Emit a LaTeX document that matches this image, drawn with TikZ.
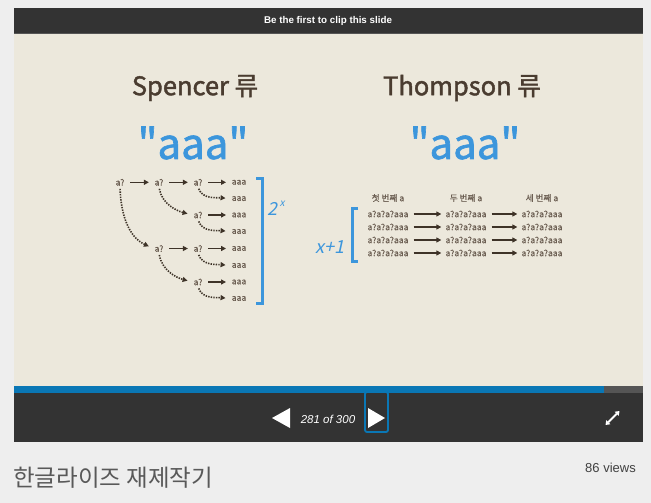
\documentclass[tikz,border=0pt]{standalone}
\usepackage{fontspec}
\setmainfont{Liberation Sans}
\newfontfamily\kr{Noto Sans CJK KR}
\newfontfamily\krm[FakeBold=1.6]{Noto Sans CJK KR}
\newfontfamily\krs[FakeBold=0.6]{Noto Sans CJK KR}
\newfontfamily\krit[FakeSlant=0.22]{Noto Sans CJK KR}
\usetikzlibrary{arrows.meta}
\definecolor{pagebg}{HTML}{EEEEEE}
\definecolor{barbg}{HTML}{333333}
\definecolor{slidebg}{HTML}{ECE8DC}
\definecolor{progblue}{HTML}{0A77B5}
\definecolor{proggray}{HTML}{555555}
\definecolor{titlecol}{HTML}{4A3C30}
\definecolor{aaablue}{HTML}{3C96DC}
\definecolor{smallcol}{HTML}{6B5E52}
\definecolor{arrcol}{HTML}{3E3328}
\tikzset{
  sm/.style={text=smallcol, font=\krs\fontsize{8.6}{9}\selectfont, inner sep=1pt},
  solidarr/.style={draw=arrcol, line width=1.4pt, -{Triangle[length=5pt,width=5pt]}, shorten <=4.5pt, shorten >=4.5pt},
  dotarr/.style={draw=arrcol, line width=1.6pt, dash pattern=on 1.4pt off 1.2pt, -{Triangle[length=5pt,width=5pt]}, shorten >=5pt, shorten <=2pt},
  brk/.style={draw=aaablue, line width=3pt},
  heading/.style={text=titlecol, font=\krm\fontsize{25.5}{28}\selectfont},
  bigaaa/.style={text=aaablue, font=\krm\fontsize{42}{46}\selectfont},
  blueital/.style={text=aaablue, font=\krit\fontsize{18}{20}\selectfont, inner sep=0pt},
}
\begin{document}
\begin{tikzpicture}[x=1pt,y=-1pt]
\useasboundingbox (0,0) rectangle (651,503);
\fill[pagebg] (0,0) rectangle (651,503);
% top bar
\fill[barbg] (14,8) rectangle (643,33);
\node[text=white, font=\bfseries\fontsize{9.8}{11}\selectfont] (clip) at (328,21) {Be the first to clip this slide};
% slide
\fill[slidebg] (14,33) rectangle (643,386);
\draw[color=proggray, line width=1pt] (14,33.5) -- (643,33.5);
% progress
\fill[progblue] (14,386) rectangle (604,393);
\fill[proggray] (604,386) rectangle (643,393);
% control bar
\fill[barbg] (14,393) rectangle (643,442);
\fill[white] (290,408) -- (290,428) -- (272,418) -- cycle;
\node[text=white, font=\itshape\fontsize{11.5}{12}\selectfont] (pg) at (328,419) {281 of 300};
\draw[progblue, line width=1.8pt, rounded corners=2pt] (365,392) rectangle (388,432);
\fill[white] (368,408) -- (368,428) -- (385,418) -- cycle;
\coordinate (ex1) at (605.5,425);
\coordinate (ex2) at (619.5,411);
\draw[white, line width=1.8pt, {Triangle[length=4pt,width=5.5pt]}-{Triangle[length=4pt,width=5.5pt]}] (ex1) -- (ex2);
% footer
\node[anchor=west, text=black!65, font=\kr\fontsize{23.5}{26}\selectfont, inner sep=0pt] (title) at (13,478) {한글라이즈 재제작기};
\node[anchor=east, text=black!75, font=\fontsize{13}{14}\selectfont, inner sep=0pt] (views) at (636,468) {86 views};
% headings
\node[heading] (sp) at (195,88) {Spencer 류};
\node[heading] (th) at (462,88) {Thompson 류};
\node[bigaaa] (qa1) at (193,143) {"aaa"};
\node[bigaaa] (qa2) at (465,143) {"aaa"};
% Spencer tree
\node[sm] (r0c0) at (120,182.3) {a?};
\node[sm] (r0c1) at (159,182.3) {a?};
\node[sm] (r0c2) at (198,182.3) {a?};
\node[sm] (r0e)  at (239,182.3) {aaa};
\node[sm] (r1e)  at (239,198.6) {aaa};
\node[sm] (r2c2) at (198,215) {a?};
\node[sm] (r2e)  at (239,215) {aaa};
\node[sm] (r3e)  at (239,231.5) {aaa};
\node[sm] (r4c1) at (159,248.5) {a?};
\node[sm] (r4c2) at (198,248.5) {a?};
\node[sm] (r4e)  at (239,248.5) {aaa};
\node[sm] (r5e)  at (239,265.5) {aaa};
\node[sm] (r6c2) at (198,282) {a?};
\node[sm] (r6e)  at (239,282) {aaa};
\node[sm] (r7e)  at (239,298.5) {aaa};
\draw[solidarr] (r0c0) -- (r0c1);
\draw[solidarr] (r0c1) -- (r0c2);
\draw[solidarr] (r0c2) -- (r0e);
\draw[solidarr] (r2c2) -- (r2e);
\draw[solidarr] (r4c1) -- (r4c2);
\draw[solidarr] (r4c2) -- (r4e);
\draw[solidarr] (r6c2) -- (r6e);
\draw[dotarr] (r0c2.south) to[out=-70,in=175] (r1e.west);
\draw[dotarr] (r2c2.south) to[out=-70,in=175] (r3e.west);
\draw[dotarr] (r4c2.south) to[out=-70,in=175] (r5e.west);
\draw[dotarr] (r6c2.south) to[out=-70,in=175] (r7e.west);
\draw[dotarr] (r0c1.south) to[out=-80,in=165] (r2c2.west);
\draw[dotarr] (r4c1.south) to[out=-80,in=165] (r6c2.west);
\draw[dotarr] (r0c0.south) to[out=-88,in=155] (r4c1.west);
\coordinate (b1t) at (256,178.5);
\coordinate (b1b) at (256,303.5);
\draw[brk] (b1t) -- ++(6,0) -- ([xshift=6pt]b1b) -- (b1b);
\node[blueital, anchor=base west] (two) at (267,215) {2};
\node[blueital, anchor=north west, font=\krit\fontsize{10}{10}\selectfont] (supx) at ([xshift=2pt,yshift=1pt]two.north east) {x};
% Thompson table
\node[sm] (h1) at (388,198) {첫 번째 a};
\node[sm] (h2) at (466,198) {두 번째 a};
\node[sm] (h3) at (542,198) {세 번째 a};
\foreach \i/\y in {1/214,2/227,3/240,4/253}{
  \node[sm] (t\i a) at (388,\y) {a?a?a?aaa};
  \node[sm] (t\i b) at (466,\y) {a?a?a?aaa};
  \node[sm] (t\i c) at (542,\y) {a?a?a?aaa};
  \draw[solidarr, shorten <=4pt, shorten >=3pt] (t\i a) -- (t\i b);
  \draw[solidarr, shorten <=4pt, shorten >=3pt] (t\i b) -- (t\i c);
}
\coordinate (b2t) at (358,208);
\coordinate (b2b) at (358,261);
\draw[brk] (b2t) -- ++(-6,0) -- ([xshift=-6pt]b2b) -- (b2b);
\node[blueital, anchor=base east] (xp1) at (345,253) {x+1};
\end{tikzpicture}
\end{document}
